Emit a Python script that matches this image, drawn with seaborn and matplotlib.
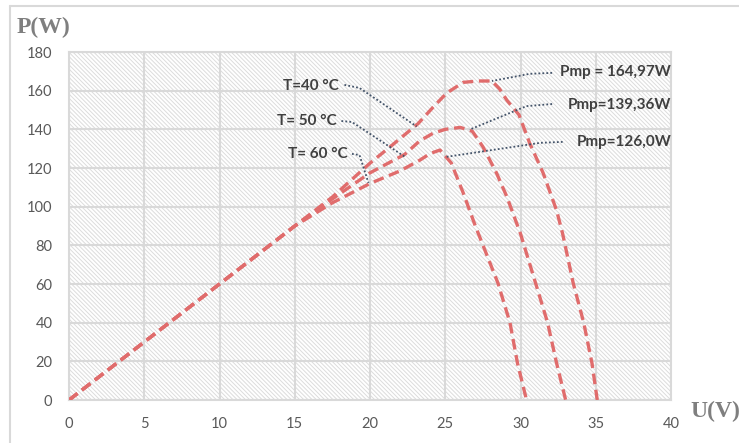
import matplotlib
matplotlib.use("Agg")
import matplotlib.pyplot as plt
import seaborn as sns
import pandas as pd
from matplotlib.patches import Rectangle
from matplotlib.lines import Line2D

# ---------------- data ----------------
U40 = [0, 5, 10, 15, 17.5, 20, 21.5, 23.2, 24.2, 25.1, 26.2, 27.2, 28.1, 28.6, 29.1, 29.9, 30.6, 31.5, 32.4, 32.8, 33.5, 34.2, 34.75, 35.1]
P40 = [0, 30, 60, 90, 105, 122.5, 132, 143, 151.5, 158.8, 164.3, 165, 165, 161, 155, 147.5, 133, 117.5, 98, 86, 60.5, 40, 19, 0]

U50 = [0, 5, 10, 15, 17.5, 20, 22.3, 23.3, 24.2, 25, 26, 26.8, 27.5, 28.4, 29.1, 30.0, 31.0, 31.8, 32.4, 33.0]
P50 = [0, 30, 60, 90, 104, 117.5, 127, 134, 138, 140, 141, 139, 131, 117.5, 105, 86, 60.5, 40, 19, 0]

U60 = [0, 5, 10, 15, 17.5, 20, 22, 23.3, 24.0, 24.65, 25.4, 26.2, 27.0, 28.5, 29.3, 29.8, 30.4]
P60 = [0, 30, 60, 90, 102, 112, 118.5, 124, 127.5, 129.3, 122.6, 107, 90, 60.5, 40, 19, 0]

temp_labels = ["T=40 °C", "T= 50 °C", "T= 60 °C"]
pmp_labels = ["Pmp = 164,97W", "Pmp=139,36W", "Pmp=126,0W"]
x_ticks = [0, 5, 10, 15, 20, 25, 30, 35, 40]
y_ticks = [0, 20, 40, 60, 80, 100, 120, 140, 160, 180]

df = pd.concat([
    pd.DataFrame({"U": U40, "P": P40, "T": "40"}),
    pd.DataFrame({"U": U50, "P": P50, "T": "50"}),
    pd.DataFrame({"U": U60, "P": P60, "T": "60"}),
], ignore_index=True)

# ---------------- style ----------------
sns.set_theme(style="white")
plt.rcParams["font.family"] = ["Lato", "DejaVu Sans"]
plt.rcParams["hatch.linewidth"] = 0.7
plt.rcParams["hatch.color"] = "#DCDCDC"

W, H = 739, 443
fig = plt.figure(figsize=(W / 100, H / 100), dpi=100)
fig.patch.set_facecolor("white")
ax = fig.add_axes([69 / W, 1 - 400 / H, (671 - 69) / W, (400 - 52) / H])
ax.set_facecolor("white")

# hatched plot area background
ax.add_patch(Rectangle((0, 0), 1, 1, transform=ax.transAxes, facecolor="white",
                       edgecolor="#DCDCDC", hatch="\\" * 8, lw=0, zorder=0))

red = "#E06C6C"
for t in ["40", "50", "60"]:
    sns.lineplot(data=df[df["T"] == t], x="U", y="P", sort=False, estimator=None,
                 color=red, lw=2.4, ax=ax, zorder=3)
for l in ax.lines:
    l.set_dashes((3.2, 1.7))

ax.set_xlim(0, 40)
ax.set_ylim(0, 180)
ax.set_xticks(x_ticks)
ax.set_yticks(y_ticks)
ax.grid(True, color="#D9D9D9", lw=1.5, zorder=1)
ax.set_axisbelow(True)
for s in ax.spines.values():
    s.set_color("#D9D9D9")
    s.set_linewidth(1.5)
ax.tick_params(axis="both", length=0, labelsize=10.5, labelcolor="#595959")
ax.tick_params(axis="y", pad=12)
ax.tick_params(axis="x", pad=12)
ax.set_xlabel("")
ax.set_ylabel("")

# ---------------- annotations ----------------
lead = dict(color="#44546A", lw=1.3, ls=(0, (1, 1.2)), zorder=4)
txt = dict(fontsize=11, fontweight="bold", color="#404040", va="center")

# temperature labels (text, leader start, kink, end on curve)
ax.text(17.9, 162.5, temp_labels[0], ha="right", **txt)
ax.plot([18.3, 19.3, 23.1], [163, 161.4, 141.5], **lead)
ax.text(17.8, 144.5, temp_labels[1], ha="right", **txt)
ax.plot([18.1, 18.8, 22.3], [144.3, 143.8, 125.9], **lead)
ax.text(18.5, 127.5, temp_labels[2], ha="right", **txt)
ax.plot([18.8, 19.3, 19.9], [127.3, 126.7, 112.3], **lead)

# Pmp labels
ax.text(40, 169.5, pmp_labels[0], ha="right", **txt)
ax.plot([32.1, 30.6, 28.1], [169.2, 168.7, 165], **lead)
ax.text(40, 152.5, pmp_labels[1], ha="right", **txt)
ax.plot([32.1, 30.4, 26.6], [153.1, 152, 139.8], **lead)
ax.text(40, 133.5, pmp_labels[2], ha="right", **txt)
ax.plot([32.8, 31.3, 25.1], [133.5, 133, 125.8], **lead)

# axis titles
fig.text(17 / W, 1 - 27 / H, "P(W)", family=["Liberation Serif"], fontweight="bold",
         fontsize=17, color="#7F7F7F", ha="left", va="center")
fig.text(690 / W, 1 - 411 / H, "U(V)", family=["Liberation Serif"], fontweight="bold",
         fontsize=17, color="#7F7F7F", ha="left", va="center")

# outer chart border
fig.add_artist(Line2D([10 / W, 10 / W], [0, 1 - 6 / H], transform=fig.transFigure,
                      color="#D9D9D9", lw=1.5))
fig.add_artist(Line2D([10 / W, 1], [1 - 6 / H, 1 - 6 / H], transform=fig.transFigure,
                      color="#D9D9D9", lw=1.5))

fig.savefig("out.png", dpi=100)
